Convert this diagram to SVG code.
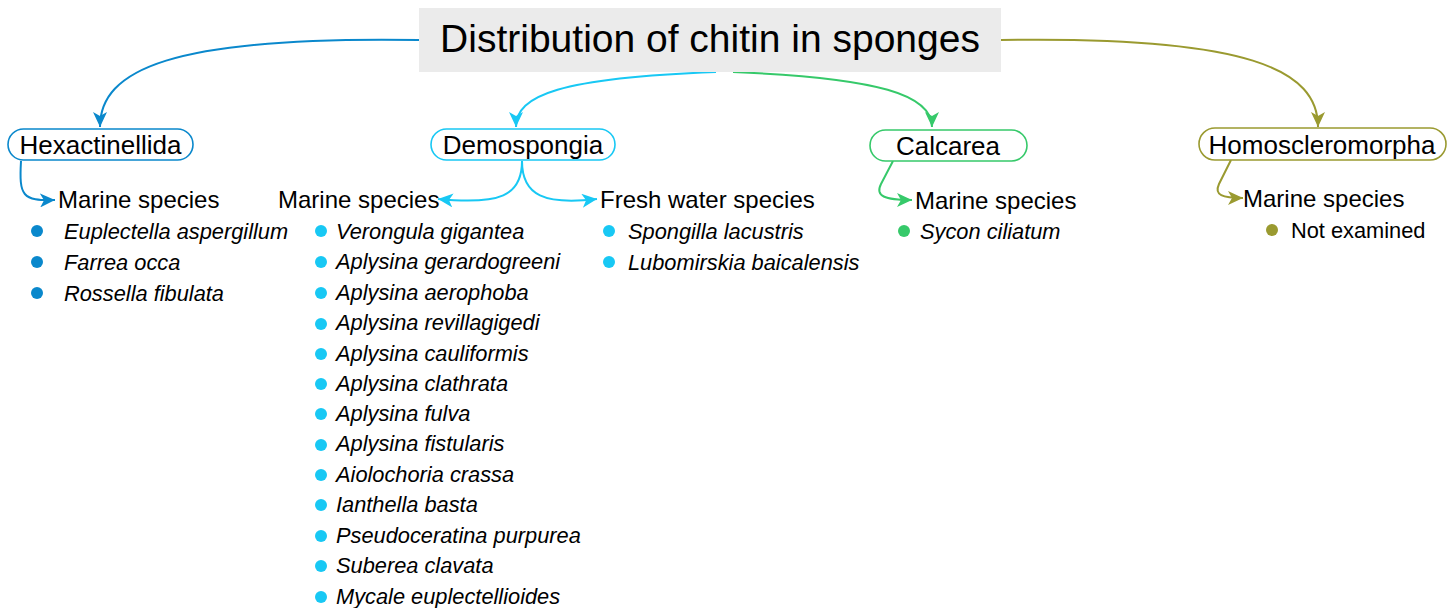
<svg xmlns="http://www.w3.org/2000/svg" width="1455" height="608" viewBox="0 0 1455 608">
<style>
text{font-family:"Liberation Sans",Arial,sans-serif;fill:#000}
.title{font-size:39px;text-anchor:middle}
.node{font-size:26px;text-anchor:middle}
.sub{font-size:24px}
.sp{font-size:21.8px;font-style:italic}
.ne{font-size:21.8px}
.c{fill:none;stroke-width:2}
.box{fill:#fff;stroke-width:1.6}
</style>
<defs>
<marker id="aH" markerUnits="userSpaceOnUse" markerWidth="16" markerHeight="14" refX="15" refY="7" orient="auto"><path d="M0,0 L15,7 L0,14 L4,7 z" fill="#0a88cc"/></marker>
<marker id="aD" markerUnits="userSpaceOnUse" markerWidth="16" markerHeight="14" refX="15" refY="7" orient="auto"><path d="M0,0 L15,7 L0,14 L4,7 z" fill="#18c8f4"/></marker>
<marker id="aC" markerUnits="userSpaceOnUse" markerWidth="16" markerHeight="14" refX="15" refY="7" orient="auto"><path d="M0,0 L15,7 L0,14 L4,7 z" fill="#36c96a"/></marker>
<marker id="aM" markerUnits="userSpaceOnUse" markerWidth="16" markerHeight="14" refX="15" refY="7" orient="auto"><path d="M0,0 L15,7 L0,14 L4,7 z" fill="#9a9a30"/></marker>
</defs>

<g id="connectors">
<path class="c" stroke="#0a88cc" marker-end="url(#aH)" d="M419,40 C170,36 100,70 100,127"/>
<path class="c" stroke="#18c8f4" marker-end="url(#aD)" d="M716,72 C560,78 516,95 516,127"/>
<path class="c" stroke="#36c96a" marker-end="url(#aC)" d="M733,72 C880,78 932,95 932,127"/>
<path class="c" stroke="#9a9a30" marker-end="url(#aM)" d="M1001,40 C1250,36 1318,70 1318,127"/>
<path class="c" stroke="#0a88cc" marker-end="url(#aH)" d="M21,161 C19,196 22,201 55,200"/>
<path class="c" stroke="#18c8f4" marker-end="url(#aD)" d="M522,161 C522,196 500,205 438,199"/>
<path class="c" stroke="#18c8f4" marker-end="url(#aD)" d="M522,161 C522,196 545,205 597,199"/>
<path class="c" stroke="#36c96a" marker-end="url(#aC)" d="M893,161 L881,184 C875,196 884,200 912,200"/>
<path class="c" stroke="#9a9a30" marker-end="url(#aM)" d="M1231,160 L1219,184 C1214,195 1222,198 1243,198"/>
</g>

<g id="title">
<rect x="419" y="8" width="582" height="64" fill="#ebebeb"/>
<text class="title" x="710" y="52">Distribution of chitin in sponges</text>
</g>

<g id="hexactinellida">
<rect class="box" x="8" y="129" width="185" height="31" rx="15.5" stroke="#0a88cc"/>
<text class="node" x="100.5" y="154">Hexactinellida</text>
</g>
<g id="hex-marine">
<text class="sub" x="58" y="208">Marine species</text>
<g fill="#0a88cc"><circle cx="37" cy="231" r="6"/><circle cx="37" cy="262" r="6"/><circle cx="37" cy="293" r="6"/></g>
<text class="sp" x="64" y="239">Euplectella aspergillum</text>
<text class="sp" x="64" y="270">Farrea occa</text>
<text class="sp" x="64" y="301">Rossella fibulata</text>
</g>

<g id="demospongia">
<rect class="box" x="431" y="129" width="184" height="31" rx="15.5" stroke="#18c8f4"/>
<text class="node" x="523" y="154">Demospongia</text>
</g>
<g id="demo-marine">
<text class="sub" x="278" y="208">Marine species</text>
<g fill="#18c8f4">
<circle cx="321" cy="231" r="6"/><circle cx="321" cy="262" r="6"/><circle cx="321" cy="293" r="6"/><circle cx="321" cy="324" r="6"/><circle cx="321" cy="354" r="6"/><circle cx="321" cy="384" r="6"/><circle cx="321" cy="414" r="6"/><circle cx="321" cy="445" r="6"/><circle cx="321" cy="475" r="6"/><circle cx="321" cy="505" r="6"/><circle cx="321" cy="536" r="6"/><circle cx="321" cy="566" r="6"/><circle cx="321" cy="597" r="6"/>
</g>
<text class="sp" x="336" y="239">Verongula gigantea</text>
<text class="sp" x="336" y="269">Aplysina gerardogreeni</text>
<text class="sp" x="336" y="300">Aplysina aerophoba</text>
<text class="sp" x="336" y="330">Aplysina revillagigedi</text>
<text class="sp" x="336" y="361">Aplysina cauliformis</text>
<text class="sp" x="336" y="391">Aplysina clathrata</text>
<text class="sp" x="336" y="421">Aplysina fulva</text>
<text class="sp" x="336" y="451">Aplysina fistularis</text>
<text class="sp" x="336" y="482">Aiolochoria crassa</text>
<text class="sp" x="336" y="512">Ianthella basta</text>
<text class="sp" x="336" y="543">Pseudoceratina purpurea</text>
<text class="sp" x="336" y="573">Suberea clavata</text>
<text class="sp" x="336" y="604">Mycale euplectellioides</text>
</g>
<g id="demo-fresh">
<text class="sub" x="600" y="208">Fresh water species</text>
<g fill="#18c8f4"><circle cx="609" cy="231" r="6"/><circle cx="609" cy="262" r="6"/></g>
<text class="sp" x="628" y="239">Spongilla lacustris</text>
<text class="sp" x="628" y="270">Lubomirskia baicalensis</text>
</g>

<g id="calcarea">
<rect class="box" x="870" y="130" width="157" height="31" rx="15.5" stroke="#36c96a"/>
<text class="node" x="948" y="155">Calcarea</text>
</g>
<g id="calc-marine">
<text class="sub" x="915" y="209">Marine species</text>
<circle cx="904" cy="231" r="6" fill="#36c96a"/>
<text class="sp" x="920" y="239">Sycon ciliatum</text>
</g>

<g id="homoscleromorpha">
<rect class="box" x="1199" y="128" width="247" height="32" rx="16" stroke="#9a9a30"/>
<text class="node" x="1322" y="153.5">Homoscleromorpha</text>
</g>
<g id="homo-marine">
<text class="sub" x="1243" y="207">Marine species</text>
<circle cx="1272" cy="230" r="6" fill="#9a9a30"/>
<text class="ne" x="1291" y="238">Not examined</text>
</g>
</svg>
